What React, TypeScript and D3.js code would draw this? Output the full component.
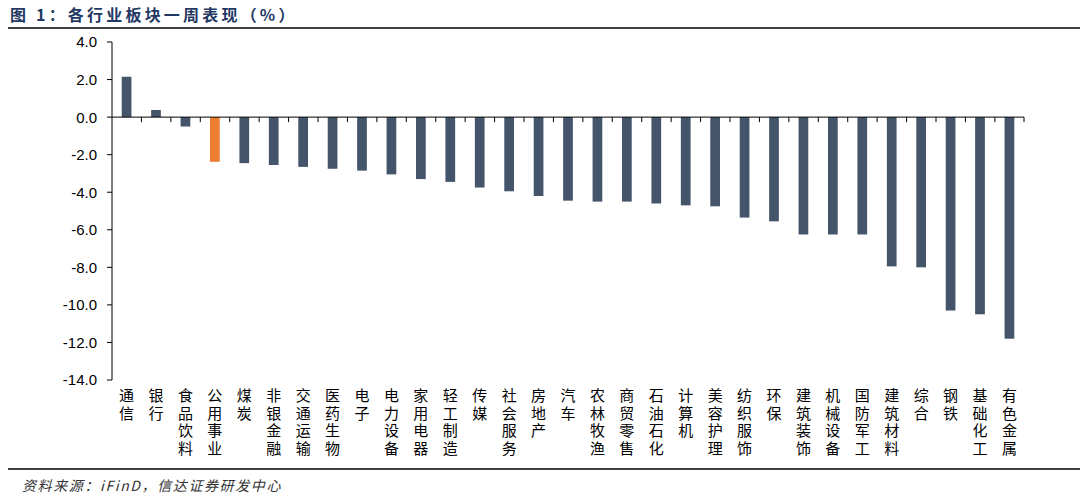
import { useEffect, useRef } from "react";
import * as d3 from "d3";

const categories = [
  "通信", "银行", "食品饮料", "公用事业", "煤炭", "非银金融", "交通运输", "医药生物",
  "电子", "电力设备", "家用电器", "轻工制造", "传媒", "社会服务", "房地产", "汽车",
  "农林牧渔", "商贸零售", "石油石化", "计算机", "美容护理", "纺织服饰", "环保",
  "建筑装饰", "机械设备", "国防军工", "建筑材料", "综合", "钢铁", "基础化工", "有色金属",
];
const values = [
  2.15, 0.38, -0.5, -2.38, -2.45, -2.55, -2.65, -2.75,
  -2.85, -3.05, -3.3, -3.45, -3.75, -3.95, -4.2, -4.45,
  -4.5, -4.5, -4.6, -4.7, -4.75, -5.35, -5.55,
  -6.25, -6.25, -6.25, -7.95, -8.0, -10.3, -10.5, -11.8,
];
const highlight = ["公用事业"];
const yTicks = [4, 2, 0, -2, -4, -6, -8, -10, -12, -14];

const W = 1080;
const H = 499;
const PLOT = { left: 112, right: 1024, top: 42, bottom: 380 };

export default function App() {
  const svgRef = useRef<SVGSVGElement>(null);

  useEffect(() => {
    const svg = d3.select(svgRef.current!);
    svg.selectAll("*").remove();

    const x = d3
      .scaleBand<string>()
      .domain(categories)
      .range([PLOT.left, PLOT.right])
      .paddingInner(0.67)
      .paddingOuter(0.33);
    const step = x.step();
    const y = d3.scaleLinear().domain([-14, 4]).range([PLOT.bottom, PLOT.top]);

    // title
    svg
      .append("text")
      .attr("x", 10)
      .attr("y", 21)
      .attr("fill", "#1F3864")
      .attr("font-family", "'Noto Sans CJK SC', sans-serif")
      .attr("font-weight", "bold")
      .attr("font-size", 16)
      .attr("letter-spacing", 3.2)
      .text("图 1：各行业板块一周表现（%）");

    svg.append("line")
      .attr("x1", 8).attr("x2", W).attr("y1", 28).attr("y2", 28)
      .attr("stroke", "#000").attr("stroke-width", 1.6);

    // bars
    svg
      .append("g")
      .selectAll("rect")
      .data(categories)
      .enter()
      .append("rect")
      .attr("x", (d) => x(d)!)
      .attr("width", x.bandwidth())
      .attr("y", (d, i) => Math.min(y(values[i]), y(0)))
      .attr("height", (d, i) => Math.abs(y(values[i]) - y(0)))
      .attr("fill", (d) => (highlight.includes(d) ? "#ED7D31" : "#44546A"));

    // y axis
    const g = svg.append("g");
    g.append("line")
      .attr("x1", PLOT.left).attr("x2", PLOT.left)
      .attr("y1", y(4)).attr("y2", y(-14))
      .attr("stroke", "#000").attr("stroke-width", 1);
    yTicks.forEach((t) => {
      g.append("line")
        .attr("x1", PLOT.left - 5).attr("x2", PLOT.left)
        .attr("y1", y(t)).attr("y2", y(t))
        .attr("stroke", "#000");
      g.append("text")
        .attr("x", 97)
        .attr("y", y(t))
        .attr("dy", "0.36em")
        .attr("text-anchor", "end")
        .attr("font-family", "'Liberation Sans', Arial, sans-serif")
        .attr("font-size", 15)
        .attr("fill", "#000")
        .text(t.toFixed(1));
    });

    // zero line + category ticks
    g.append("line")
      .attr("x1", PLOT.left).attr("x2", PLOT.right)
      .attr("y1", y(0)).attr("y2", y(0))
      .attr("stroke", "#000");
    categories.forEach((c, i) => {
      if (i === 0) return;
      const tx = PLOT.left + i * step;
      g.append("line")
        .attr("x1", tx).attr("x2", tx)
        .attr("y1", y(0)).attr("y2", y(0) + 5)
        .attr("stroke", "#000");
    });
    g.append("line")
      .attr("x1", PLOT.right).attr("x2", PLOT.right)
      .attr("y1", y(0)).attr("y2", y(0) + 5)
      .attr("stroke", "#000");

    // vertical category labels, one upright character per text
    const lab = svg.append("g")
      .attr("font-family", "'Noto Sans CJK SC', sans-serif")
      .attr("font-size", 15)
      .attr("fill", "#000");
    categories.forEach((c) => {
      const cx = x(c)! + x.bandwidth() / 2;
      Array.from(c).forEach((ch, j) => {
        lab.append("text")
          .attr("x", cx)
          .attr("y", 388 + j * 17.5)
          .style("writing-mode", "vertical-rl")
          .style("text-orientation", "upright")
          .text(ch);
      });
    });

    svg.append("line")
      .attr("x1", 8).attr("x2", W).attr("y1", 469).attr("y2", 469)
      .attr("stroke", "#000").attr("stroke-width", 1.6);

    svg
      .append("text")
      .attr("x", 22)
      .attr("y", 491)
      .attr("fill", "#333")
      .attr("font-family", "'Noto Sans CJK SC', sans-serif")
      .attr("font-style", "italic")
      .attr("font-size", 14)
      .attr("letter-spacing", 1.6)
      .text("资料来源：iFinD，信达证券研发中心");
  }, []);

  return (
    <svg
      ref={svgRef}
      width={W}
      height={H}
      style={{ position: "absolute", left: 0, top: 0, background: "#fff" }}
    />
  );
}
